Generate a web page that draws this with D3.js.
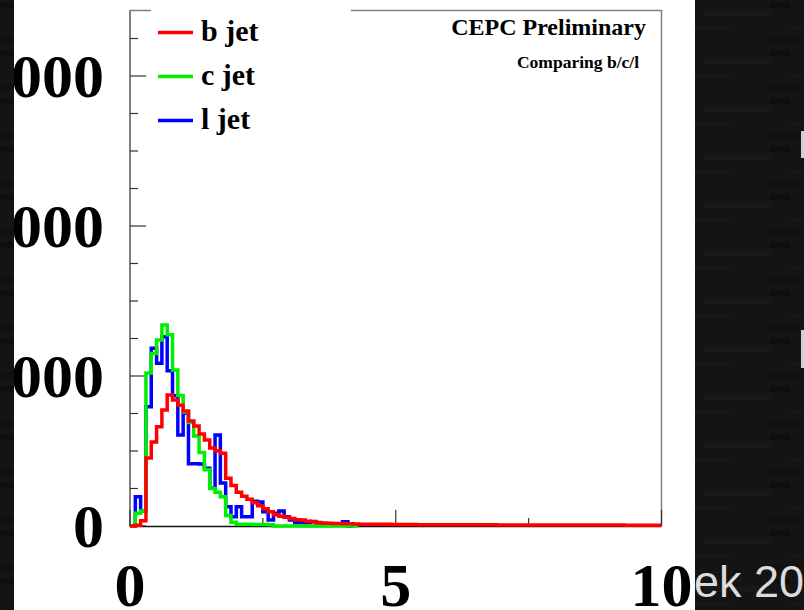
<!DOCTYPE html>
<html>
<head>
<meta charset="utf-8">
<script src="https://cdn.jsdelivr.net/npm/d3@7"></script>
<style>
  html, body { margin: 0; padding: 0; background: #141414; }
  svg { display: block; }
</style>
</head>
<body>
<svg id="chart" width="804" height="610"></svg>
<script>
// Histogram binning: 100 bins of width 0.1 over [0, 10]
const binWidth = 0.1;

// b jet (red) entries per bin
const bJet = [
  0, 5, 35, 453, 560, 662, 773, 873, 840, 805,
  767, 700, 667, 613, 573, 520, 502, 485, 318, 270,
  225, 198, 178, 155, 135, 115, 95, 75, 65, 58,
  50, 42, 40, 32, 29, 24, 20, 18, 17, 16,
  15, 15, 14, 12, 12, 11, 11, 11, 11, 10,
  10, 10, 10, 10, 9, 9, 9, 9, 9, 9,
  8, 8, 8, 8, 8, 8, 8, 8, 8, 7,
  7, 7, 7, 7, 7, 7, 7, 7, 7, 6,
  6, 6, 6, 6, 6, 6, 6, 6, 6, 6,
  6, 6, 6, 5, 5, 5, 5, 5, 5, 5
];

// c jet (green) entries per bin
const cJet = [
  0, 85, 100, 1020, 1150, 1240, 1340, 1275, 1040, 870,
  760, 690, 600, 490, 375, 250, 225, 195, 70, 25,
  12, 11, 11, 10, 10, 10, 9, 0, 0, 0,
  0, 0, 0, 0, 0, 0, 0, 0, 0, 0,
  0, 0, 0
];

// l jet (blue) entries per bin
const lJet = [
  0, 195, 100, 795, 1185, 1085, 1262, 1035, 868, 607,
  751, 415, 415, 413, 385, 251, 607, 287, 129, 62,
  129, 62, 62, 165, 160, 95, 40, 85, 100, 62,
  40, 22, 22, 22, 30, 15, 10, 8, 5, 5,
  28, 0
];

const seriesNames = ["b jet", "c jet", "l jet"];
const seriesColors = ["#ff0000", "#00ee00", "#0000ff"];

const xMajorTicks = [0, 5, 10];
const xMinorTicks = [2.5, 7.5];
const xTickLabels = ["0", "5", "10"];
const yMajorTicks = [0, 1000, 2000, 3000];
const yTickLabels = ["0", "1000", "2000", "3000"];
const yMinorStep = 250;

const titleText = "CEPC Preliminary";
const subtitleText = "Comparing b/c/l";
const footerText = "ek  20";

// ---- layout ----
const W = 804, H = 610;
const frame = { left: 130, right: 661.5, top: 10, bottom: 526 };
const serif = "'Liberation Serif', 'Times New Roman', serif";

const svg = d3.select("#chart");

// dark striped backdrop
const defs = svg.append("defs");
const pat = defs.append("pattern")
  .attr("id", "stripes").attr("patternUnits", "userSpaceOnUse")
  .attr("width", 110).attr("height", 48);
pat.append("rect").attr("width", 110).attr("height", 48).attr("fill", "#141414");
pat.append("rect").attr("x", 0).attr("y", 2).attr("width", 20).attr("height", 6).attr("fill", "#0e0e0e");
pat.append("rect").attr("x", 45).attr("y", 10).attr("width", 65).attr("height", 6).attr("fill", "#181818");
pat.append("rect").attr("x", 20).attr("y", 26).attr("width", 50).attr("height", 5).attr("fill", "#171717");
pat.append("rect").attr("x", 0).attr("y", 36).attr("width", 30).attr("height", 6).attr("fill", "#101010");
svg.append("rect").attr("width", W).attr("height", H).attr("fill", "url(#stripes)");

// slide fragments at the right edge
svg.append("rect").attr("x", 801).attr("y", 131).attr("width", 3).attr("height", 27).attr("fill", "#cfcfcf");
svg.append("rect").attr("x", 801).attr("y", 330).attr("width", 3).attr("height", 38).attr("fill", "#cfcfcf");

svg.append("text")
  .attr("x", 694).attr("y", 597)
  .attr("font-family", "'Liberation Sans', Arial, sans-serif")
  .attr("font-size", 45)
  .attr("fill", "#dcdcdc")
  .text(footerText);

// white canvas
svg.append("rect").attr("x", 14).attr("y", 0).attr("width", 681).attr("height", H).attr("fill", "#ffffff");

// scales
const x = d3.scaleLinear().domain([0, 10]).range([frame.left, frame.right]);
const y = d3.scaleLinear().domain([0, 3440]).range([frame.bottom, frame.top]);

// frame
svg.append("line")
  .attr("x1", frame.left).attr("x2", frame.right)
  .attr("y1", frame.top + 0.5).attr("y2", frame.top + 0.5)
  .attr("stroke", "#808080").attr("stroke-width", 1.5);
svg.append("line")
  .attr("x1", frame.right).attr("x2", frame.right)
  .attr("y1", frame.top).attr("y2", frame.bottom)
  .attr("stroke", "#808080").attr("stroke-width", 1.5);
svg.append("line")
  .attr("x1", frame.left).attr("x2", frame.left)
  .attr("y1", frame.top).attr("y2", frame.bottom + 1)
  .attr("stroke", "#808080").attr("stroke-width", 2);

// y axis ticks (drawn inward)
const yMinor = d3.range(0, 3440, yMinorStep).filter(v => v % 1000 !== 0);
svg.append("g").selectAll("line").data(yMinor).join("line")
  .attr("x1", frame.left).attr("x2", frame.left + 8)
  .attr("y1", d => y(d)).attr("y2", d => y(d))
  .attr("stroke", "#333").attr("stroke-width", 1.2);
svg.append("g").selectAll("line").data(yMajorTicks).join("line")
  .attr("x1", frame.left).attr("x2", frame.left + 16)
  .attr("y1", d => y(d)).attr("y2", d => y(d))
  .attr("stroke", "#333").attr("stroke-width", 1.2);

// y labels
svg.append("g").selectAll("text").data(yMajorTicks).join("text")
  .attr("x", 104).attr("y", d => y(d) + 21)
  .attr("text-anchor", "end")
  .attr("font-family", serif).attr("font-weight", "bold").attr("font-size", 62)
  .attr("fill", "#000")
  .text((d, i) => yTickLabels[i]);

// x axis line and ticks (drawn upward)
svg.append("line")
  .attr("x1", frame.left).attr("x2", frame.right)
  .attr("y1", frame.bottom + 0.5).attr("y2", frame.bottom + 0.5)
  .attr("stroke", "#111").attr("stroke-width", 1.5);
svg.append("g").selectAll("line").data(xMajorTicks).join("line")
  .attr("x1", d => x(d)).attr("x2", d => x(d))
  .attr("y1", frame.bottom).attr("y2", frame.bottom - 16)
  .attr("stroke", "#333").attr("stroke-width", 1.2);
svg.append("g").selectAll("line").data(xMinorTicks).join("line")
  .attr("x1", d => x(d)).attr("x2", d => x(d))
  .attr("y1", frame.bottom).attr("y2", frame.bottom - 8)
  .attr("stroke", "#333").attr("stroke-width", 1.2);

// step histograms
function stepPoints(values) {
  const pts = values.map((v, i) => [i * binWidth, v]);
  pts.push([values.length * binWidth, values[values.length - 1]]);
  return pts;
}
const stepLine = d3.line()
  .x(d => x(d[0])).y(d => y(d[1]))
  .curve(d3.curveStepAfter);

const series = [lJet, cJet, bJet];
const seriesColorByOrder = [seriesColors[2], seriesColors[1], seriesColors[0]];
svg.append("g").selectAll("path").data(series).join("path")
  .attr("d", d => stepLine(stepPoints(d)))
  .attr("fill", "none")
  .attr("stroke", (d, i) => seriesColorByOrder[i])
  .attr("stroke-width", 3.5)
  .attr("stroke-linejoin", "miter");

// legend (white box over the top frame edge)
const legend = svg.append("g");
legend.append("rect")
  .attr("x", 151).attr("y", 2).attr("width", 200).attr("height", 138)
  .attr("fill", "#ffffff");
const legendRows = legend.selectAll("g.row").data(seriesNames).join("g")
  .attr("class", "row")
  .attr("transform", (d, i) => `translate(0, ${32.5 + i * 44})`);
legendRows.append("line")
  .attr("x1", 158).attr("x2", 193)
  .attr("stroke", (d, i) => seriesColors[i]).attr("stroke-width", 3.5);
legendRows.append("text")
  .attr("x", 201).attr("y", 8.5)
  .attr("font-family", serif).attr("font-weight", "bold").attr("font-size", 30)
  .attr("fill", "#000")
  .text(d => d);

// title and subtitle
svg.append("text")
  .attr("x", 646).attr("y", 35)
  .attr("text-anchor", "end")
  .attr("font-family", serif).attr("font-weight", "bold").attr("font-size", 24)
  .text(titleText);
svg.append("text")
  .attr("x", 639).attr("y", 68)
  .attr("text-anchor", "end")
  .attr("font-family", serif).attr("font-weight", "bold").attr("font-size", 17.5)
  .text(subtitleText);

// x labels
svg.append("g").selectAll("text").data(xMajorTicks).join("text")
  .attr("x", d => x(d)).attr("y", 606)
  .attr("text-anchor", "middle")
  .attr("font-family", serif).attr("font-weight", "bold").attr("font-size", 62)
  .attr("fill", "#000")
  .text((d, i) => xTickLabels[i]);

// the slide's dark margin sits in front of the plot's left edge
svg.append("rect").attr("x", 0).attr("y", 0).attr("width", 14).attr("height", H)
  .attr("fill", "url(#stripes)");
</script>
</body>
</html>
